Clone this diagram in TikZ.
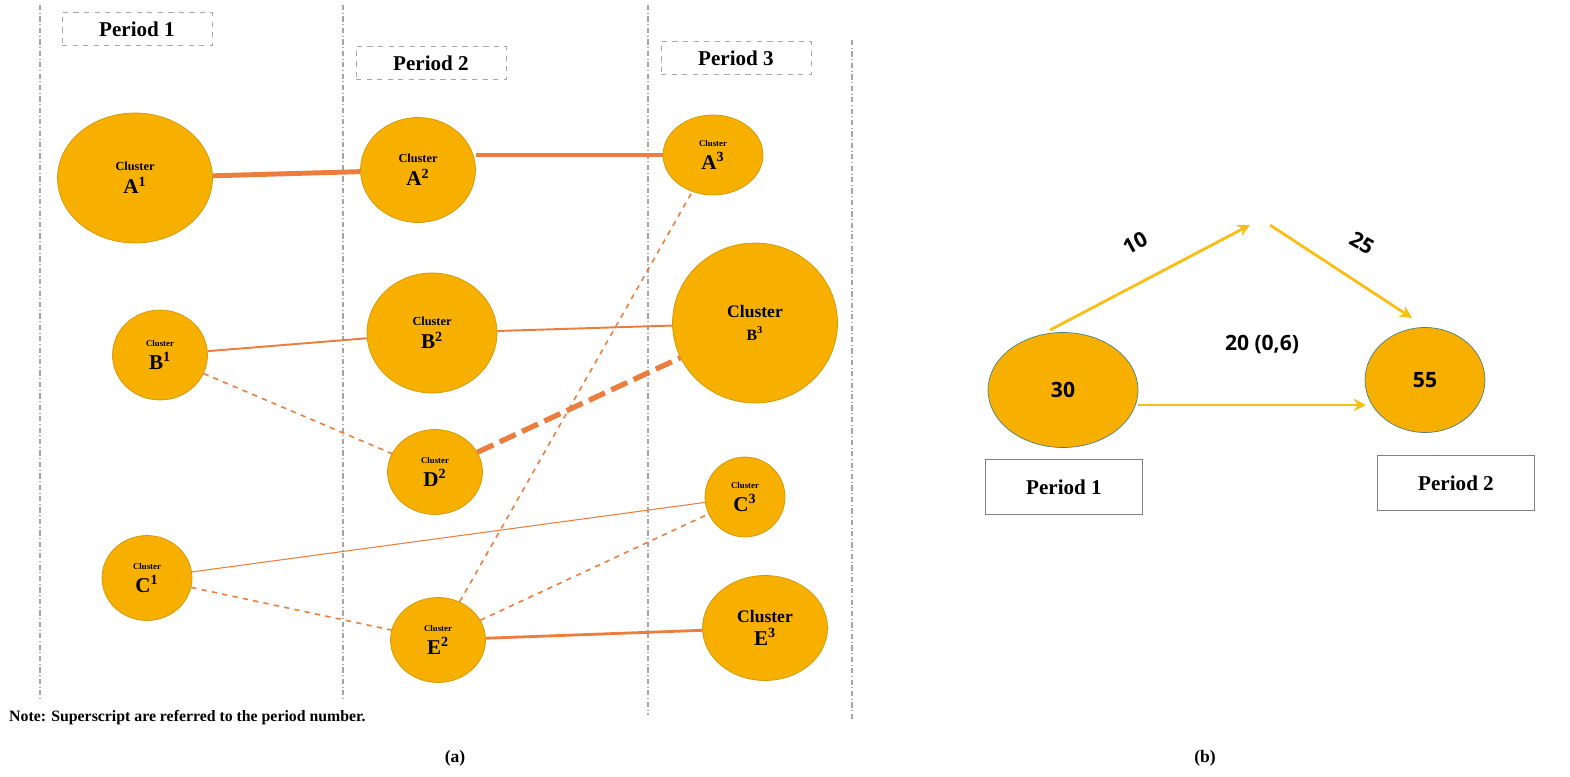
\documentclass[tikz,border=0pt]{standalone}
\usepackage{fontspec}
\setmainfont{Liberation Serif}
\newfontfamily\osans{Open Sans}
\begin{document}
\begin{tikzpicture}[x=0.02cm,y=-0.02cm,
  cl/.style={ellipse,fill=clfill,draw=clfill!85!black,line width=0.4pt,inner sep=0pt,align=center,font=\bfseries},
  vline/.style={draw=gray!70,dash pattern=on 3pt off 1.5pt on 0.5pt off 1.5pt,line width=0.6pt},
  pbox/.style={draw=gray!70,dashed,font=\bfseries\large,minimum width=3cm,minimum height=0.66cm},
  lk/.style={draw=lkcol},
  ya/.style={draw=ylw,line width=1.6pt,-{Stealth[length=7pt,width=7pt]}},
  bbox/.style={draw=gray,font=\bfseries\large,minimum width=3.15cm,minimum height=1.1cm}]
\definecolor{clfill}{RGB}{247,176,0}
\definecolor{lkcol}{RGB}{236,125,60}
\definecolor{ylw}{RGB}{250,190,20}
\useasboundingbox (0,0) rectangle (1570,777);
\usetikzlibrary{shapes.geometric,arrows.meta}
% vertical lines
\draw[vline] (40,5) -- (40,700);
\draw[vline] (343,5) -- (343,700);
\draw[vline] (648,5) -- (648,715);
\draw[vline] (852,40) -- (852,720);
\node[pbox] (p1) at (137,29) {Period 1};
\node[pbox] (p2) at (431,63) {Period 2};
\node[pbox] (p3) at (736,58) {Period 3};
% clusters
\newcommand{\cc}[2]{{\scriptsize Cluster}\\[1pt]{\large #1\textsuperscript{#2}}}
\newcommand{\ct}[2]{{\tiny Cluster}\\[1pt]{\large #1\textsuperscript{#2}}}
\node[cl,minimum width=3.1cm,minimum height=2.6cm] (A1) at (135,178) {\cc{A}{1}};
\node[cl,minimum width=2.3cm,minimum height=2.1cm] (A2) at (418,170) {\cc{A}{2}};
\node[cl,minimum width=2.0cm,minimum height=1.6cm] (A3) at (713,155) {\ct{A}{3}};
\node[cl,minimum width=1.9cm,minimum height=1.8cm] (B1) at (160,355) {\ct{B}{1}};
\node[cl,minimum width=2.6cm,minimum height=2.4cm] (B2) at (432,333) {\cc{B}{2}};
\node[cl,minimum width=3.3cm,minimum height=3.2cm] (B3) at (755,323) {{\normalsize Cluster}\\[1pt]{\small B\textsuperscript{3}}};
\node[cl,minimum width=1.9cm,minimum height=1.7cm] (D2) at (435,472) {\ct{D}{2}};
\node[cl,minimum width=1.8cm,minimum height=1.7cm] (C1) at (147,578) {\ct{C}{1}};
\node[cl,minimum width=1.6cm,minimum height=1.6cm] (C3) at (745,497) {\ct{C}{3}};
\node[cl,minimum width=1.9cm,minimum height=1.7cm] (E2) at (438,640) {\ct{E}{2}};
\node[cl,minimum width=2.5cm,minimum height=2.1cm] (E3) at (765,628) {{\normalsize Cluster}\\[1pt]{\large E\textsuperscript{3}}};
% links
\draw[lk,line width=2.8pt] (A1) -- (A2);
\draw[lk,line width=2.8pt] (A3.west) -- (A3.west -| A2.east);
\draw[lk,line width=1.1pt] (B1) -- (B2);
\draw[lk,line width=1.1pt] (B2) -- (B3);
\draw[lk,line width=0.9pt,dashed] (B1) -- (D2);
\draw[lk,line width=3pt,dash pattern=on 10pt off 4pt] (D2) -- (B3);
\draw[lk,line width=0.6pt] (C1) -- (C3);
\draw[lk,line width=0.9pt,dashed] (C1) -- (E2);
\draw[lk,line width=0.9pt,dashed] (E2) -- (A3);
\draw[lk,line width=0.9pt,dashed] (E2) -- (C3);
\draw[lk,line width=1.6pt] (E2) -- (E3);
\node[anchor=west,font=\bfseries\small] (note) at (3,718) {Note: Superscript are referred to the period number.};
\node[font=\bfseries] (la) at (455,758) {(a)};
\node[font=\bfseries] (lb) at (1205,758) {(b)};
% part b
\node[ellipse,fill=clfill,draw=gray!60!teal,minimum width=3cm,minimum height=2.3cm,font=\osans\bfseries\large] (n30) at (1063,390) {30};
\node[ellipse,fill=clfill,draw=gray!60!teal,minimum width=2.4cm,minimum height=2.1cm,font=\osans\bfseries\large] (n55) at (1425,380) {55};
\node[bbox] (q1) at (1064,487) {Period 1};
\node[bbox] (q2) at (1456,483) {Period 2};
\coordinate (s10) at (1050,330);
\coordinate (t10) at (1250,225);
\coordinate (s25) at (1270,225);
\coordinate (t25) at (1412,318);
\draw[ya] (s10) -- (t10);
\draw[ya] (s25) -- (t25);
\draw[ya] (n30.east |- 0,405) -- (1366,405) coordinate (t20);
\node[font=\osans\bfseries\large,rotate=28,inner sep=1pt] (l10) at (1135,243) {10};
\node[font=\osans\bfseries\large,rotate=-30,inner sep=1pt] (l25) at (1362,243) {25};
\node[font=\osans\bfseries\large] (l20) at (1262,345) {20 (0,6)};
\end{tikzpicture}
\end{document}
